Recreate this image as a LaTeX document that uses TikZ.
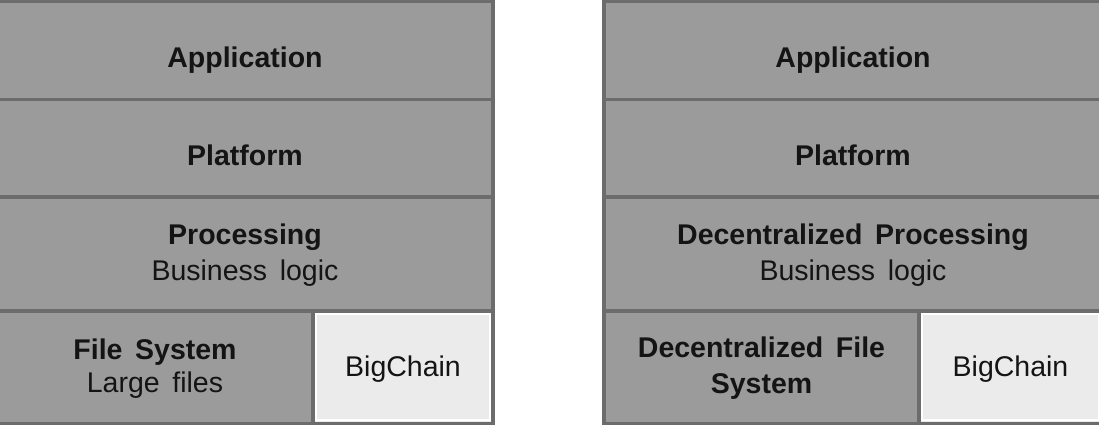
\documentclass[tikz,border=0pt]{standalone}
\usepackage{fontspec}
\setmainfont{Liberation Sans}
\newfontfamily\headfont[WordSpace=1.8]{Liberation Sans}
\newfontfamily\subfont[WordSpace=1.6]{Liberation Sans}
\definecolor{layer}{HTML}{9B9B9B}
\definecolor{edge}{HTML}{6C6C6C}
\definecolor{chainfill}{HTML}{EBEBEB}
\definecolor{ink}{HTML}{141414}
\begin{document}
\begin{tikzpicture}[x=1pt,y=1pt,
  cell/.style={draw=edge, line width=3.5pt, fill=layer, inner sep=0pt, outer sep=0pt},
  chaincell/.style={cell, fill=chainfill},
  head/.style={anchor=base, inner sep=0pt, text=ink, font=\headfont\bfseries\fontsize{28.5}{34}\selectfont},
  sub/.style={anchor=base, inner sep=0pt, text=ink, font=\subfont\fontsize{28.5}{34}\selectfont},
]
\useasboundingbox (0,0) rectangle (1099,425);
\fill[white] (0,0) rectangle (1099,425);
\clip (0,0) rectangle (1099,425);

% left stack
\node[cell, minimum width=496, minimum height=98]   (appL)  at (245,374.5)  {};
\node[cell, minimum width=496, minimum height=97.5] (platL) at (245,276.75) {};
\node[cell, minimum width=496, minimum height=114]  (procL) at (245,171)    {};
\node[cell, minimum width=316, minimum height=112.5] (fsL)  at (155,57.75)  {};
\node[chaincell, minimum width=180, minimum height=112.5] (bcL) at (403,57.75) {};
\draw[white, line width=2pt] ([shift={(3,3)}]bcL.south west) rectangle ([shift={(-3,-3)}]bcL.north east);

% right stack
\node[cell, minimum width=498, minimum height=98]   (appR)  at (853,374.5)  {};
\node[cell, minimum width=498, minimum height=97.5] (platR) at (853,276.75) {};
\node[cell, minimum width=498, minimum height=114]  (procR) at (853,171)    {};
\node[cell, minimum width=315, minimum height=112.5] (fsR)  at (761.5,57.75) {};
\node[chaincell, minimum width=183, minimum height=112.5] (bcR) at (1010.5,57.75) {};
\draw[white, line width=2pt] ([shift={(3,3)}]bcR.south west) rectangle ([shift={(-3,-3)}]bcR.north east);

% labels, left
\node[head] (appLt)  at ([yshift=-17.5]appL.center)  {Application};
\node[head] (platLt) at ([yshift=-17.75]platL.center) {Platform};
\node[head] (procLt) at ([yshift=9]procL.center)     {Processing};
\node[sub]  (procLs) at ([yshift=-27]procL.center)   {Business logic};
\node[head] (fsLt)   at ([yshift=7.25]fsL.center)    {File System};
\node[sub]  (fsLs)   at ([yshift=-25.75]fsL.center)  {Large files};
\node[sub]  (bcLt)   at ([yshift=-9.75]bcL.center)   {BigChain};

% labels, right
\node[head] (appRt)  at ([yshift=-17.5]appR.center)  {Application};
\node[head] (platRt) at ([yshift=-17.75]platR.center) {Platform};
\node[head] (procRt) at ([yshift=9]procR.center)     {Decentralized Processing};
\node[sub]  (procRs) at ([yshift=-27]procR.center)   {Business logic};
\node[head] (fsRt)   at ([yshift=9.25]fsR.center)    {Decentralized File};
\node[head] (fsRs)   at ([yshift=-26.75]fsR.center)  {System};
\node[sub]  (bcRt)   at ([yshift=-9.75]bcR.center)   {BigChain};
\end{tikzpicture}
\end{document}
